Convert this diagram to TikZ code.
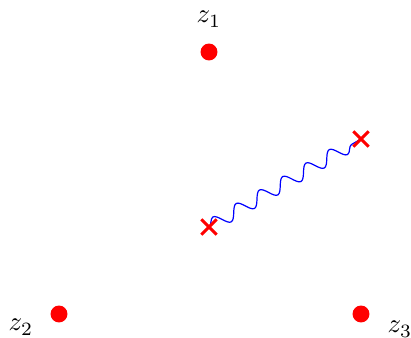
\documentclass[tikz,border=0pt]{standalone}
\usetikzlibrary{shapes.misc,decorations.pathmorphing}
\begin{document}
\begin{tikzpicture}[x=0.372pt,y=-0.372pt,
  dot/.style={circle,fill=red,inner sep=0pt,minimum size=6.3pt},
  xmark/.style={cross out,draw=red,line width=1.1pt,inner sep=0pt,minimum size=4.6pt},
  lbl/.style={inner sep=0pt,anchor=base},
  wavy/.style={blue,line width=0.45pt,decorate,decoration={snake,segment length=10pt,amplitude=2.5pt}}]
\useasboundingbox (0,0) rectangle (411,338);
\node[dot] (p1) at (209,52) {};
\node[dot] (p2) at (59,314) {};
\node[dot] (p3) at (361,314) {};
\node[lbl] (l1) at (209,23) {$z_1$};
\node[lbl] (l2) at (21,331) {$z_2$};
\node[lbl] (l3) at (400,333) {$z_3$};
\coordinate (a) at (209,227);
\coordinate (b) at (361,139);
\draw[wavy] (a) -- (b);
\node[xmark] (ca) at (a) {};
\node[xmark] (cb) at (b) {};
\end{tikzpicture}
\end{document}
